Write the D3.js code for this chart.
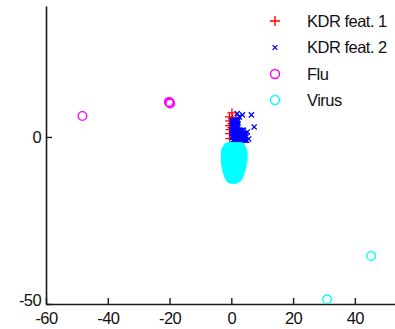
<!DOCTYPE html>
<html><head><meta charset="utf-8">
<script src="https://cdn.jsdelivr.net/npm/d3@7/dist/d3.min.js"></script>
<style>
html,body{margin:0;padding:0;background:#fff;}
svg{display:block;}
text{font-family:"Liberation Sans",Arial,sans-serif;fill:#111;}
</style></head>
<body>
<script>
// ---- data ----
const seriesNames = ["KDR feat. 1", "KDR feat. 2", "Flu", "Virus"];
const xTicks = [-60, -40, -20, 0, 20, 40];
const yTicks = [-50, 0];

const kdr1X = [0.2, -0.6, 0.4, -0.5, 0.3, -0.6, -0.4, -0.6, -0.5, 2.6, 1.6, 0.8, 0.2];
const kdr1Y = [7.2, 6.0, 5.5, 4.8, 4.0, 3.4, 2.2, 1.0, -0.5, -0.3, 5.6, -0.6, 2.8];

const kdr2X = [0.3, 0.8, 1.2, 1.7, 2.1, 0.3, 0.8, 1.2, 1.7, 2.1, 0.3, 0.8, 1.2, 1.7, 2.1,
               0.5, 1.0, 1.5, 2.0, 0.5, 1.0, 1.5, 2.0,
               0.3, 0.8, 1.2, 1.7, 2.1, 2.6, 3.0, 3.5, 3.9,
               0.3, 0.8, 1.2, 1.7, 2.1, 2.6, 3.0, 3.5, 3.9, 4.4,
               0.3, 0.8, 1.2, 1.7, 2.1, 2.6, 3.0, 3.5, 3.9, 4.4, 4.8,
               0.5, 1.0, 1.4, 1.9, 2.3, 2.8, 3.2, 3.7, 4.1, 4.6, 5.0, 5.6,
               0.5, 1.0, 1.5, 2.0, 2.5, 3.0, 3.5, 4.0, 4.5,
               3.6, 6.5, 7.4, 5.2, 1.9, 2.6];
const kdr2Y = [5, 5, 5, 5, 5, 4, 4, 4, 4, 4, 3, 3, 3, 3, 3,
               4.5, 4.5, 4.5, 4.5, 3.5, 3.5, 3.5, 3.5,
               2, 2, 2, 2, 2, 2, 2, 2, 2,
               1, 1, 1, 1, 1, 1, 1, 1, 1, 1,
               0, 0, 0, 0, 0, 0, 0, 0, 0, 0, 0,
               -1, -1, -1, -1, -1, -1, -1, -1, -1, -1, -1, -0.6,
               1.5, 1.5, 1.5, 1.5, 1.5, 0.5, 0.5, 0.5, 0.5,
               6.6, 6.6, 3.0, 1.5, 7.0, 6.0];

const fluX = [-48.2, -20.2, -19.8, -20.0];
const fluY = [6.3, 10.5, 10.0, 10.3];

const virusX = [-1.0, -0.5, 0.0, 0.5, 1.0, 1.5, 2.0, 2.5, 3.0,
                -1.6, -1.1, -0.6, -0.1, 0.4, 0.9, 1.4, 1.9, 2.4, 2.9, 3.4,
                -1.8, -1.3, -0.8, -0.3, 0.2, 0.7, 1.2, 1.7, 2.2, 2.7, 3.2, 3.7,
                -1.8, -1.3, -0.8, -0.3, 0.2, 0.7, 1.2, 1.7, 2.2, 2.7, 3.2, 3.7,
                -1.8, -1.3, -0.8, -0.3, 0.2, 0.7, 1.2, 1.7, 2.2, 2.7, 3.2, 3.7,
                -1.8, -1.3, -0.8, -0.3, 0.2, 0.7, 1.2, 1.7, 2.2, 2.7, 3.2, 3.6,
                -1.7, -1.2, -0.7, -0.2, 0.3, 0.8, 1.3, 1.8, 2.3, 2.8, 3.4,
                -1.6, -1.1, -0.6, -0.1, 0.4, 0.9, 1.4, 1.9, 2.4, 2.9, 3.3,
                -1.4, -0.9, -0.4, 0.1, 0.6, 1.1, 1.6, 2.1, 2.6, 3.0,
                -1.2, -0.7, -0.2, 0.3, 0.8, 1.3, 1.8, 2.3, 2.8,
                -0.9, -0.4, 0.1, 0.6, 1.1, 1.6, 2.1, 2.5,
                -0.7, -0.2, 0.3, 0.8, 1.3, 1.8, 2.3,
                -0.4, 0.1, 0.6, 1.1, 1.6, 2.0,
                -0.1, 0.4, 0.9, 1.4,
                45.3, 31.0];
const virusY = [-3.1, -3.1, -3.1, -3.1, -3.1, -3.1, -3.1, -3.1, -3.1,
                -3.9, -3.9, -3.9, -3.9, -3.9, -3.9, -3.9, -3.9, -3.9, -3.9, -3.9,
                -4.7, -4.7, -4.7, -4.7, -4.7, -4.7, -4.7, -4.7, -4.7, -4.7, -4.7, -4.7,
                -5.5, -5.5, -5.5, -5.5, -5.5, -5.5, -5.5, -5.5, -5.5, -5.5, -5.5, -5.5,
                -6.3, -6.3, -6.3, -6.3, -6.3, -6.3, -6.3, -6.3, -6.3, -6.3, -6.3, -6.3,
                -7.1, -7.1, -7.1, -7.1, -7.1, -7.1, -7.1, -7.1, -7.1, -7.1, -7.1, -7.1,
                -7.9, -7.9, -7.9, -7.9, -7.9, -7.9, -7.9, -7.9, -7.9, -7.9, -7.9,
                -8.7, -8.7, -8.7, -8.7, -8.7, -8.7, -8.7, -8.7, -8.7, -8.7, -8.7,
                -9.5, -9.5, -9.5, -9.5, -9.5, -9.5, -9.5, -9.5, -9.5, -9.5,
                -10.3, -10.3, -10.3, -10.3, -10.3, -10.3, -10.3, -10.3, -10.3,
                -11.0, -11.0, -11.0, -11.0, -11.0, -11.0, -11.0, -11.0,
                -11.6, -11.6, -11.6, -11.6, -11.6, -11.6, -11.6,
                -12.1, -12.1, -12.1, -12.1, -12.1, -12.1,
                -12.5, -12.5, -12.5, -12.5,
                -35.6, -48.6];

// ---- drawing ----
const W = 395, H = 329;
const svg = d3.select("body").append("svg").attr("width", W).attr("height", H);

const x = d3.scaleLinear().domain([-60, 53]).range([46, 395]);
const y = d3.scaleLinear().domain([-50, 39.2]).range([304, 6]);

const axisColor = "#1a1a1a";
const fs = "16.5px";
const fmt = d => String(d);

// x axis
const gx = svg.append("g").attr("transform", `translate(0,${y(-50)})`)
  .call(d3.axisBottom(x).tickValues(xTicks).tickFormat(fmt).tickSizeInner(-6).tickSizeOuter(0).tickPadding(10));
gx.select(".domain").attr("stroke", axisColor).attr("stroke-width", 1.6);
gx.selectAll(".tick line").attr("stroke", axisColor).attr("stroke-width", 1.4);
gx.selectAll("text").style("font-size", fs).attr("fill", "#111").attr("dy", "0.6em").style("letter-spacing", "-0.6px");

// y axis
const gy = svg.append("g").attr("transform", `translate(${x(-60)},0)`)
  .call(d3.axisLeft(y).tickValues(yTicks).tickFormat(fmt).tickSizeInner(-6).tickSizeOuter(0).tickPadding(5));
gy.select(".domain").attr("stroke", axisColor).attr("stroke-width", 1.6);
gy.selectAll(".tick line").attr("stroke", axisColor).attr("stroke-width", 1.4);
gy.selectAll("text").style("font-size", fs).attr("fill", "#111").style("letter-spacing", "-0.6px");
gy.selectAll(".tick").filter(d => d === -50).select("text").attr("dy", "0.1em");

// marker helpers
function plusPath(s){ return `M${-s},0H${s}M0,${-s}V${s}`; }
function xPath(s){ return `M${-s},${-s}L${s},${s}M${-s},${s}L${s},${-s}`; }

const zip = (a, b) => a.map((v, i) => [v, b[i]]);

const plot = svg.append("g");

plot.selectAll("path.k1").data(zip(kdr1X, kdr1Y)).join("path")
  .attr("class", "k1")
  .attr("transform", d => `translate(${x(d[0])},${y(d[1])})`)
  .attr("d", plusPath(4.5)).attr("stroke", "#ff0000").attr("stroke-width", 1.3).attr("fill", "none");

plot.selectAll("path.k2").data(zip(kdr2X, kdr2Y)).join("path")
  .attr("class", "k2")
  .attr("transform", d => `translate(${x(d[0])},${y(d[1])})`)
  .attr("d", xPath(2.6)).attr("stroke", "#0000ff").attr("stroke-width", 1.3).attr("fill", "none");

plot.selectAll("circle.flu").data(zip(fluX, fluY)).join("circle")
  .attr("class", "flu")
  .attr("cx", d => x(d[0])).attr("cy", d => y(d[1])).attr("r", 4.3)
  .attr("stroke", "#ff00ff").attr("stroke-width", 1.4).attr("fill", "none");

plot.selectAll("circle.vir").data(zip(virusX, virusY)).join("circle")
  .attr("class", "vir")
  .attr("cx", d => x(d[0])).attr("cy", d => y(d[1])).attr("r", 4.3)
  .attr("stroke", "#00ffff").attr("stroke-width", 1.4).attr("fill", "none");

// legend
const legY = [21, 47.5, 74, 100];
const lg = svg.append("g");
const mx = 275, tx = 307;
lg.append("path").attr("transform", `translate(${mx},${legY[0]})`).attr("d", plusPath(5))
  .attr("stroke", "#ff0000").attr("stroke-width", 1.4).attr("fill", "none");
lg.append("path").attr("transform", `translate(${mx},${legY[1]})`).attr("d", xPath(2.4))
  .attr("stroke", "#0000ff").attr("stroke-width", 1.3).attr("fill", "none");
lg.append("circle").attr("cx", mx).attr("cy", legY[2]).attr("r", 4.5)
  .attr("stroke", "#ff00ff").attr("stroke-width", 1.4).attr("fill", "none");
lg.append("circle").attr("cx", mx).attr("cy", legY[3]).attr("r", 4.5)
  .attr("stroke", "#00ffff").attr("stroke-width", 1.4).attr("fill", "none");
lg.selectAll("text").data(seriesNames).join("text")
  .attr("x", tx).attr("y", (d, i) => legY[i]).attr("dy", "0.35em")
  .style("font-size", fs).style("letter-spacing", "-0.5px").text(d => d);
</script>
</body></html>
